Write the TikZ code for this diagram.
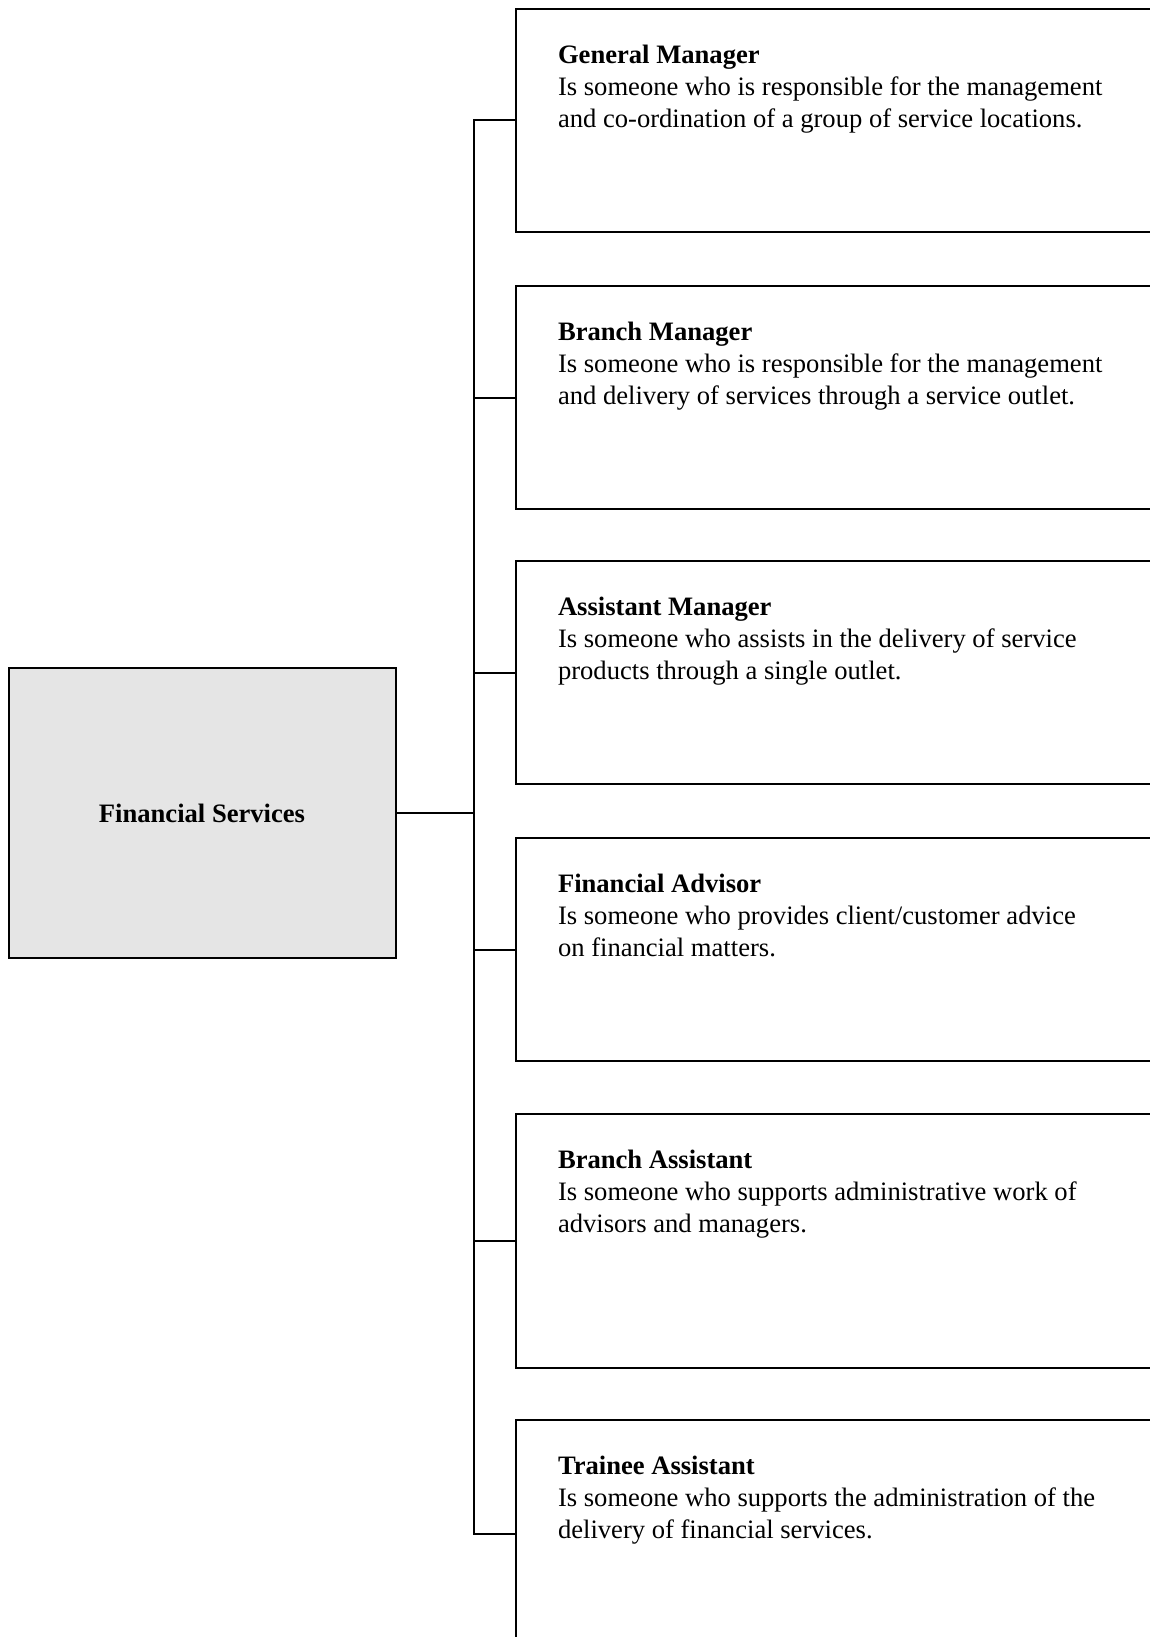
\documentclass[tikz,border=0pt]{standalone}
\usepackage{fontspec}
\setmainfont{Liberation Serif}
\begin{document}
\begin{tikzpicture}[x=0.5pt,y=-0.5pt,line width=1pt,
    rootbox/.style={draw, fill=black!10, minimum width=193.5pt, minimum height=145pt,
        font=\bfseries\fontsize{13.3}{16}\selectfont},
    rolebox/.style={draw, anchor=north west, minimum width=350pt, minimum height=111.5pt, inner sep=0pt},
    roletext/.style={anchor=north west, align=left, inner sep=0pt,
        font=\fontsize{13.3}{16}\selectfont}
]
\useasboundingbox (0,0) rectangle (1150,1637);
\clip (0,0) rectangle (1150,1637);

% root
\node[rootbox] (fs) at (202,813) {Financial Services};
\coordinate (fork) at (474,813);

% roles
\node[rolebox] (gm) at (515,8) {};
\node[rolebox] (bm) at (515,285) {};
\node[rolebox] (am) at (515,560) {};
\node[rolebox] (fa) at (515,837) {};
\node[rolebox, minimum height=127pt] (ba) at (515,1113) {};
\node[rolebox, minimum height=114pt] (ta) at (515,1419) {};

\node[roletext] (gmtext) at ([shift={(42,36)}]gm.north west)
    {\textbf{General Manager}\\Is someone who is responsible for the management\\and co-ordination of a group of service locations.};
\node[roletext] (bmtext) at ([shift={(42,36)}]bm.north west)
    {\textbf{Branch Manager}\\Is someone who is responsible for the management\\and delivery of services through a service outlet.};
\node[roletext] (amtext) at ([shift={(42,36)}]am.north west)
    {\textbf{Assistant Manager}\\Is someone who assists in the delivery of service\\products through a single outlet.};
\node[roletext] (fatext) at ([shift={(42,36)}]fa.north west)
    {\textbf{Financial Advisor}\\Is someone who provides client/customer advice\\on financial matters.};
\node[roletext] (batext) at ([shift={(42,36)}]ba.north west)
    {\textbf{Branch Assistant}\\Is someone who supports administrative work of\\advisors and managers.};
\node[roletext] (tatext) at ([shift={(42,36)}]ta.north west)
    {\textbf{Trainee Assistant}\\Is someone who supports the administration of the\\delivery of financial services.};

% connectors
\draw (fs.east) -- (fork);
\foreach \n in {gm,bm,am,fa,ba,ta}
    \draw (fork) |- (\n.west);
\end{tikzpicture}
\end{document}
